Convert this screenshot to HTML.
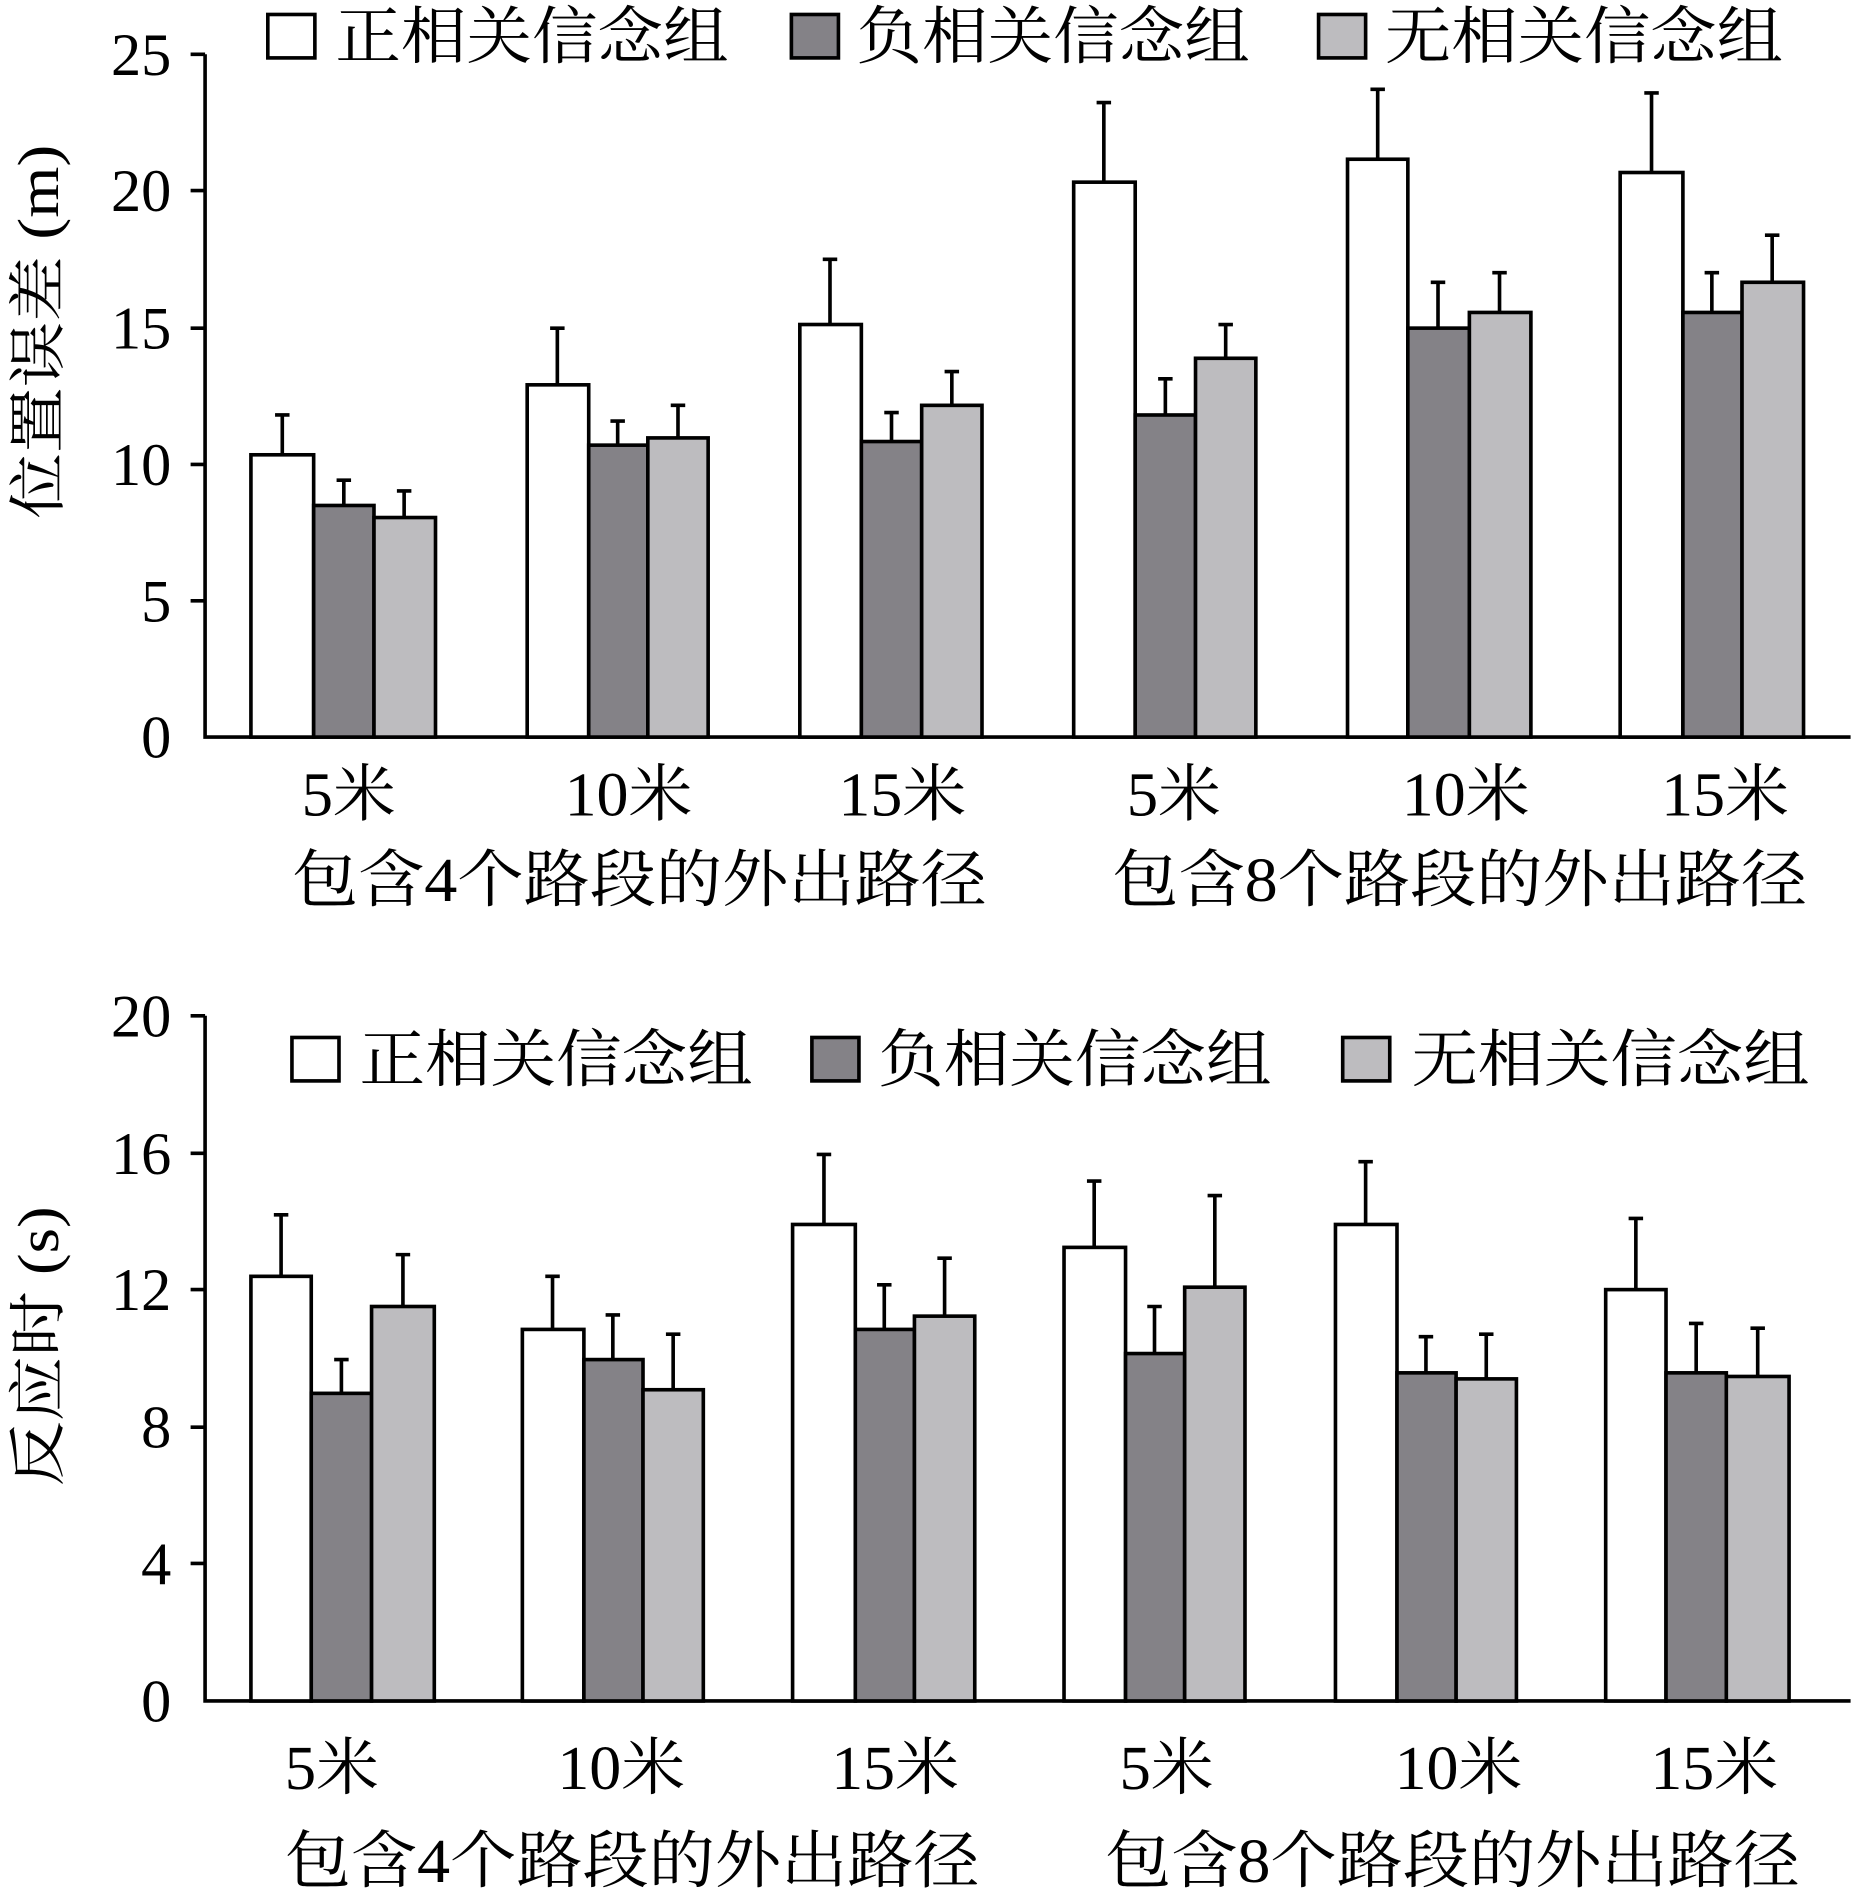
<!DOCTYPE html>
<html><head><meta charset="utf-8"><style>
html,body{margin:0;padding:0;background:#fff;}
svg{display:block;}
text{font-family:"Liberation Serif","Noto Serif CJK SC","Noto Sans CJK SC",serif;fill:#000;}
</style></head><body>
<svg width="1853" height="1894" viewBox="0 0 1536 1570" preserveAspectRatio="none" xmlns="http://www.w3.org/2000/svg">
<g stroke="#000" stroke-width="3" fill="none">
<path d="M170 45 V611 H1534"/>
<path d="M158 45H170M158 158H170M158 272H170M158 385H170M158 498H170"/>
<path d="M170 842 V1410 H1534"/>
<path d="M158 842H170M158 956H170M158 1069H170M158 1183H170M158 1296H170"/>
</g>
<g stroke="#000" stroke-width="3">
<rect x="208" y="377" width="52" height="234" fill="#fff"/>
<rect x="260" y="419" width="50" height="192" fill="#848287"/>
<rect x="310" y="429" width="51" height="182" fill="#bdbcbf"/>
<rect x="437" y="319" width="51" height="292" fill="#fff"/>
<rect x="488" y="369" width="49" height="242" fill="#848287"/>
<rect x="537" y="363" width="50" height="248" fill="#bdbcbf"/>
<rect x="663" y="269" width="51" height="342" fill="#fff"/>
<rect x="714" y="366" width="50" height="245" fill="#848287"/>
<rect x="764" y="336" width="50" height="275" fill="#bdbcbf"/>
<rect x="890" y="151" width="51" height="460" fill="#fff"/>
<rect x="941" y="344" width="50" height="267" fill="#848287"/>
<rect x="991" y="297" width="50" height="314" fill="#bdbcbf"/>
<rect x="1117" y="132" width="50" height="479" fill="#fff"/>
<rect x="1167" y="272" width="51" height="339" fill="#848287"/>
<rect x="1218" y="259" width="51" height="352" fill="#bdbcbf"/>
<rect x="1343" y="143" width="52" height="468" fill="#fff"/>
<rect x="1395" y="259" width="49" height="352" fill="#848287"/>
<rect x="1444" y="234" width="51" height="377" fill="#bdbcbf"/>
<rect x="208" y="1058" width="50" height="352" fill="#fff"/>
<rect x="258" y="1155" width="50" height="255" fill="#848287"/>
<rect x="308" y="1083" width="52" height="327" fill="#bdbcbf"/>
<rect x="433" y="1102" width="51" height="308" fill="#fff"/>
<rect x="484" y="1127" width="49" height="283" fill="#848287"/>
<rect x="533" y="1152" width="50" height="258" fill="#bdbcbf"/>
<rect x="657" y="1015" width="52" height="395" fill="#fff"/>
<rect x="709" y="1102" width="49" height="308" fill="#848287"/>
<rect x="758" y="1091" width="50" height="319" fill="#bdbcbf"/>
<rect x="882" y="1034" width="51" height="376" fill="#fff"/>
<rect x="933" y="1122" width="49" height="288" fill="#848287"/>
<rect x="982" y="1067" width="50" height="343" fill="#bdbcbf"/>
<rect x="1107" y="1015" width="51" height="395" fill="#fff"/>
<rect x="1158" y="1138" width="49" height="272" fill="#848287"/>
<rect x="1207" y="1143" width="50" height="267" fill="#bdbcbf"/>
<rect x="1331" y="1069" width="50" height="341" fill="#fff"/>
<rect x="1381" y="1138" width="50" height="272" fill="#848287"/>
<rect x="1431" y="1141" width="52" height="269" fill="#bdbcbf"/>
</g>
<g stroke="#000" stroke-width="3" fill="none">
<path d="M234 377V344M228 344H240"/>
<path d="M285 419V398M279 398H291"/>
<path d="M335 429V407M329 407H341"/>
<path d="M462 319V272M456 272H468"/>
<path d="M512 369V349M506 349H518"/>
<path d="M562 363V336M556 336H568"/>
<path d="M688 269V215M682 215H694"/>
<path d="M739 366V342M733 342H745"/>
<path d="M789 336V308M783 308H795"/>
<path d="M915 151V85M909 85H921"/>
<path d="M966 344V314M960 314H972"/>
<path d="M1016 297V269M1010 269H1022"/>
<path d="M1142 132V74M1136 74H1148"/>
<path d="M1192 272V234M1186 234H1198"/>
<path d="M1243 259V226M1237 226H1249"/>
<path d="M1369 143V77M1363 77H1375"/>
<path d="M1419 259V226M1413 226H1425"/>
<path d="M1469 234V195M1463 195H1475"/>
<path d="M233 1058V1007M227 1007H239"/>
<path d="M283 1155V1127M277 1127H289"/>
<path d="M334 1083V1040M328 1040H340"/>
<path d="M458 1102V1058M452 1058H464"/>
<path d="M508 1127V1090M502 1090H514"/>
<path d="M558 1152V1106M552 1106H564"/>
<path d="M683 1015V957M677 957H689"/>
<path d="M733 1102V1065M727 1065H739"/>
<path d="M783 1091V1043M777 1043H789"/>
<path d="M907 1034V979M901 979H913"/>
<path d="M957 1122V1083M951 1083H963"/>
<path d="M1007 1067V991M1001 991H1013"/>
<path d="M1132 1015V963M1126 963H1138"/>
<path d="M1182 1138V1108M1176 1108H1188"/>
<path d="M1232 1143V1106M1226 1106H1238"/>
<path d="M1356 1069V1010M1350 1010H1362"/>
<path d="M1406 1138V1097M1400 1097H1412"/>
<path d="M1457 1141V1101M1451 1101H1463"/>
</g>
<g stroke="#000" stroke-width="3">
<rect x="222" y="12" width="39" height="36" fill="#fff"/>
<rect x="656" y="12" width="39" height="36" fill="#848287"/>
<rect x="1093" y="12" width="39" height="36" fill="#bdbcbf"/>
<rect x="242" y="860" width="39" height="36" fill="#fff"/>
<rect x="673" y="860" width="39" height="36" fill="#848287"/>
<rect x="1113" y="860" width="39" height="36" fill="#bdbcbf"/>
</g>
<g font-size="52">
<text x="278" y="48" textLength="326" lengthAdjust="spacingAndGlyphs">正相关信念组</text>
<text x="710" y="48" textLength="326" lengthAdjust="spacingAndGlyphs">负相关信念组</text>
<text x="1148" y="48" textLength="330" lengthAdjust="spacingAndGlyphs">无相关信念组</text>
<text x="298" y="896" textLength="326" lengthAdjust="spacingAndGlyphs">正相关信念组</text>
<text x="728" y="896" textLength="326" lengthAdjust="spacingAndGlyphs">负相关信念组</text>
<text x="1170" y="896" textLength="330" lengthAdjust="spacingAndGlyphs">无相关信念组</text>
</g>
<g font-size="50" text-anchor="end">
<text x="142" y="62">25</text><text x="142" y="175">20</text><text x="142" y="289">15</text>
<text x="142" y="402">10</text><text x="142" y="515">5</text><text x="142" y="628">0</text>
<text x="142" y="859">20</text><text x="142" y="973">16</text><text x="142" y="1086">12</text>
<text x="142" y="1200">8</text><text x="142" y="1313">4</text><text x="142" y="1427">0</text>
</g>
<text font-size="48" transform="translate(48 430) rotate(-90)" textLength="310" lengthAdjust="spacingAndGlyphs">位置误差 (m)</text>
<text font-size="48" transform="translate(48 1232) rotate(-90)" textLength="232" lengthAdjust="spacingAndGlyphs">反应时 (s)</text>
<g font-size="52">
<text x="250" y="676" textLength="78" lengthAdjust="spacingAndGlyphs">5米</text>
<text x="468" y="676" textLength="106" lengthAdjust="spacingAndGlyphs">10米</text>
<text x="695" y="676" textLength="106" lengthAdjust="spacingAndGlyphs">15米</text>
<text x="934" y="676" textLength="78" lengthAdjust="spacingAndGlyphs">5米</text>
<text x="1162" y="676" textLength="106" lengthAdjust="spacingAndGlyphs">10米</text>
<text x="1377" y="676" textLength="106" lengthAdjust="spacingAndGlyphs">15米</text>
<text x="236" y="1483" textLength="78" lengthAdjust="spacingAndGlyphs">5米</text>
<text x="462" y="1483" textLength="106" lengthAdjust="spacingAndGlyphs">10米</text>
<text x="689" y="1483" textLength="106" lengthAdjust="spacingAndGlyphs">15米</text>
<text x="928" y="1483" textLength="78" lengthAdjust="spacingAndGlyphs">5米</text>
<text x="1156" y="1483" textLength="106" lengthAdjust="spacingAndGlyphs">10米</text>
<text x="1368" y="1483" textLength="106" lengthAdjust="spacingAndGlyphs">15米</text>
<text x="242" y="747" textLength="576" lengthAdjust="spacingAndGlyphs">包含4个路段的外出路径</text>
<text x="922" y="747" textLength="576" lengthAdjust="spacingAndGlyphs">包含8个路段的外出路径</text>
<text x="236" y="1560" textLength="576" lengthAdjust="spacingAndGlyphs">包含4个路段的外出路径</text>
<text x="916" y="1560" textLength="576" lengthAdjust="spacingAndGlyphs">包含8个路段的外出路径</text>
</g>
</svg>
</body></html>
